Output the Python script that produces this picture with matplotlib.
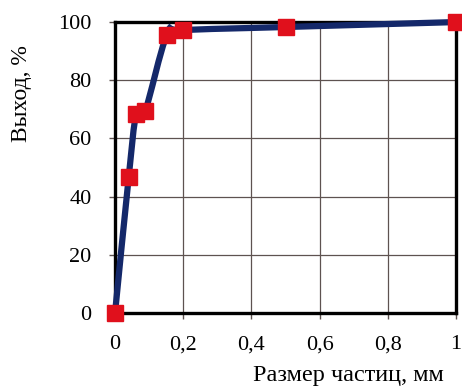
import numpy as np
import matplotlib
matplotlib.use("Agg")
import matplotlib.pyplot as plt
from matplotlib.path import Path
from matplotlib.patches import PathPatch

plt.rcParams['font.family'] = ['Liberation Serif', 'DejaVu Serif']

size_mm = [0.0, 0.04, 0.062, 0.088, 0.152, 0.2, 0.5, 1.0]
yield_pct = [0.0, 46.6, 68.3, 69.3, 95.5, 97.2, 98.3, 100.0]
xticks = [0, 0.2, 0.4, 0.6, 0.8, 1.0]
xticklabels = ["0", "0,2", "0,4", "0,6", "0,8", "1"]
yticks = [0, 20, 40, 60, 80, 100]


def smooth_path(x, y, k=1/6):
    # Catmull-Rom style bezier through the points (like Excel smoothed line)
    pts = np.column_stack([x, y])
    n = len(pts)
    verts = [pts[0]]
    codes = [Path.MOVETO]
    for i in range(n - 1):
        p0 = pts[i - 1] if i > 0 else pts[i]
        p1 = pts[i]
        p2 = pts[i + 1]
        p3 = pts[i + 2] if i + 2 < n else pts[i + 1]
        c1 = p1 + (p2 - p0) * k
        c2 = p2 - (p3 - p1) * k
        verts += [c1, c2, p2]
        codes += [Path.CURVE4] * 3
    return Path(verts, codes)


fig = plt.figure(figsize=(4.62, 3.87), dpi=100)
ax = fig.add_axes([0.249, 0.191, 0.738, 0.752])

xs = np.array(size_mm)
ys = np.array(yield_pct)
patch = PathPatch(smooth_path(xs, ys), facecolor="none", edgecolor="#14286a",
                  lw=4.5, zorder=3, clip_on=False)
ax.add_patch(patch)
ax.plot(size_mm, yield_pct, ls="none", marker="s", ms=11.5,
        color="#e0101c", zorder=4, clip_on=False)

ax.set_xlim(0, 1)
ax.set_ylim(0, 100)
ax.set_xticks(xticks)
ax.set_xticklabels(xticklabels)
ax.set_yticks(yticks)
ax.grid(True, color="#5e5250", lw=0.9)
ax.set_axisbelow(True)
for sp in ax.spines.values():
    sp.set_linewidth(2.4)
    sp.set_color("black")
ax.tick_params(direction="out", length=4, width=1, color="#5e5250",
               labelsize=16)
ax.tick_params(axis="x", pad=12)
ax.tick_params(axis="y", pad=13)

# labels sit off-centre, as in the original figure
ax.set_xlabel("Размер частиц, мм", fontsize=17.5, va="center")
ax.xaxis.set_label_coords(0.683, -0.213)
ax.set_ylabel("Выход, %", fontsize=17, va="center")
ax.yaxis.set_label_coords(-0.273, 0.756)

plt.savefig("out.png", dpi=100)
